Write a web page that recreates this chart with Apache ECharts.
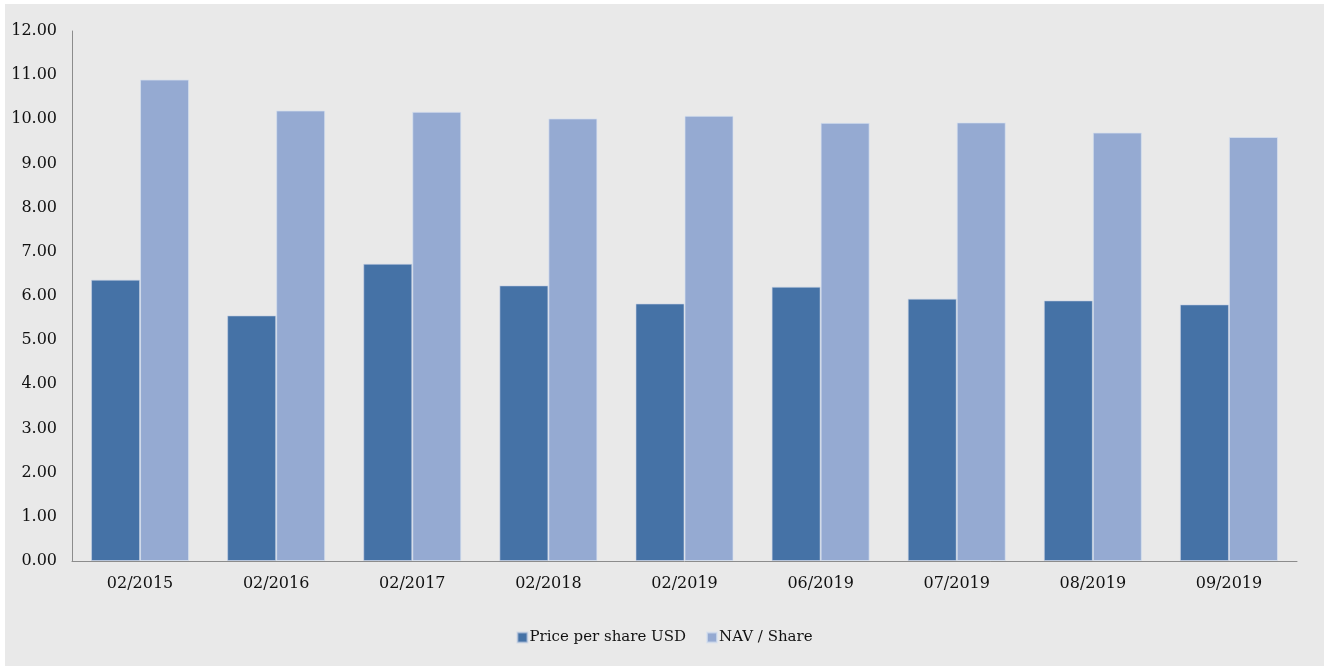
<!DOCTYPE html>
<html>
<head>
<meta charset="utf-8">
<script src="https://cdn.jsdelivr.net/npm/echarts@6/dist/echarts.min.js"></script>
<style>
  html, body { margin: 0; padding: 0; background: #ffffff; }
  #nav-chart {
    position: absolute;
    left: 5px;
    top: 4px;
    width: 1319px;
    height: 662px;
  }
</style>
</head>
<body>
<div id="nav-chart"></div>
<script>
// categories and values
var months = ["02/2015", "02/2016", "02/2017", "02/2018", "02/2019", "06/2019", "07/2019", "08/2019", "09/2019"];
var pricePerShare = [6.37, 5.56, 6.73, 6.24, 5.83, 6.21, 5.94, 5.90, 5.81];
var navPerShare = [10.90, 10.20, 10.17, 10.02, 10.08, 9.92, 9.93, 9.70, 9.60];
var seriesNames = ["Price per share USD", "NAV / Share"];

var chart = echarts.init(document.getElementById("nav-chart"));
var font = "'DejaVu Serif', 'Liberation Serif', serif";

var option = {
  backgroundColor: "#e9e9e9",
  animation: false,
  textStyle: { fontFamily: font },
  legend: {
    data: seriesNames,
    bottom: 16,
    left: "center",
    itemWidth: 10,
    itemHeight: 10,
    itemGap: 20,
    icon: "rect",
    textStyle: { color: "#111", fontSize: 15, fontFamily: font, padding: [0, 0, 0, -3] },
  },
  grid: {
    left: 67,
    top: 27,
    width: 1225,
    height: 530,
    containLabel: false,
  },
  xAxis: {
    type: "category",
    data: months,
    axisLine: { lineStyle: { color: "#8c8c8c", width: 1 } },
    axisTick: { show: false },
    axisLabel: { color: "#111", fontSize: 16, fontFamily: font, margin: 15 },
  },
  yAxis: {
    type: "value",
    min: 0,
    max: 12,
    interval: 1,
    axisLine: { show: true, lineStyle: { color: "#8c8c8c", width: 1 } },
    axisTick: { show: false },
    splitLine: { show: false },
    axisLabel: {
      color: "#111",
      fontSize: 16,
      fontFamily: font,
      margin: 15,
      formatter: function (v) { return v.toFixed(2); },
    },
  },
  series: [
    {
      name: seriesNames[0],
      type: "bar",
      data: pricePerShare,
      barGap: "0%",
      barCategoryGap: "28%",
      itemStyle: { color: "#4572a6", borderColor: "rgba(200,210,230,0.6)", borderWidth: 1 },
    },
    {
      name: seriesNames[1],
      type: "bar",
      data: navPerShare,
      barGap: "0%",
      barCategoryGap: "28%",
      itemStyle: { color: "#95aad2", borderColor: "rgba(215,225,240,0.7)", borderWidth: 1 },
    },
  ],
};
chart.setOption(option);
</script>
</body>
</html>
